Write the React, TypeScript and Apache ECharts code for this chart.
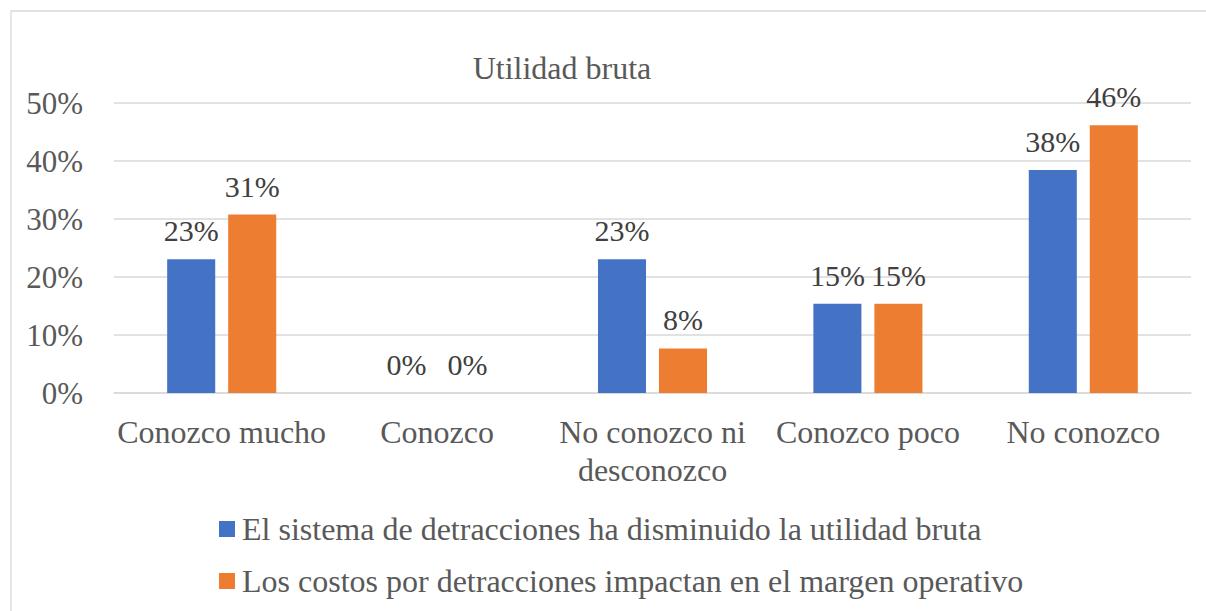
import React, { useEffect, useRef } from "react";
import * as echarts from "echarts";

const categories = ["Conozco mucho", "Conozco", "No conozco ni\ndesconozco", "Conozco poco", "No conozco"];
const seriesNames = [
  "El sistema de detracciones ha disminuido la utilidad bruta",
  "Los costos por detracciones impactan en el margen operativo",
];
const utilidadBruta = [0.2308, 0, 0.2308, 0.1538, 0.3846];
const margenOperativo = [0.3077, 0, 0.0769, 0.1538, 0.4615];
const titleText = "Utilidad bruta";

const FONT = "Liberation Serif, serif";

export default function App() {
  const ref = useRef<HTMLDivElement>(null);
  useEffect(() => {
    if (!ref.current) return;
    const chart = echarts.init(ref.current, null, { renderer: "svg" });
    const pct = (v: number) => Math.round(v * 100) + "%";
    const label = {
      show: true,
      position: "top",
      distance: 13,
      fontFamily: FONT,
      fontSize: 30,
      lineHeight: 31,
      color: "#404040",
      formatter: (p: any) => pct(p.value),
    };
    chart.setOption({
      animation: false,
      textStyle: { fontFamily: FONT },
      graphic: [
        {
          type: "polyline",
          shape: { points: [[11, 700], [11, 11], [1500, 11]] },
          style: { fill: "none", stroke: "#d9d9d9", lineWidth: 1.3 },
          silent: true,
        },
        {
          type: "text",
          x: 562,
          y: 68,
          style: {
            text: titleText,
            fontFamily: FONT,
            fontSize: 32,
            fill: "#595959",
            align: "center",
            verticalAlign: "middle",
          },
        },
      ],
      grid: { left: 114, right: 15, top: 103, bottom: 218, containLabel: false },
      legend: {
        orient: "vertical",
        left: 214,
        top: 508,
        itemWidth: 16,
        itemHeight: 16,
        itemGap: 20,
        icon: "rect",
        textStyle: { fontFamily: FONT, fontSize: 32, lineHeight: 31, color: "#595959", padding: [0, 0, 0, 2] },
        data: seriesNames,
      },
      xAxis: {
        type: "category",
        data: categories,
        axisLine: { show: true, lineStyle: { color: "#d9d9d9", width: 1.5 } },
        axisTick: { show: false },
        axisLabel: {
          interval: 0,
          margin: 20,
          fontFamily: FONT,
          fontSize: 32,
          lineHeight: 38,
          color: "#595959",
          align: "center",
        },
      },
      yAxis: {
        type: "value",
        min: 0,
        max: 0.5,
        interval: 0.1,
        axisLine: { show: false },
        axisTick: { show: false },
        splitLine: { lineStyle: { color: "#d9d9d9", width: 1.5 } },
        axisLabel: {
          margin: 31,
          fontFamily: FONT,
          fontSize: 31,
          color: "#595959",
          formatter: (v: number) => Math.round(v * 100) + "%",
        },
      },
      series: [
        {
          name: seriesNames[0],
          type: "bar",
          data: utilidadBruta,
          barWidth: "22.3%",
          barGap: "27%",
          itemStyle: { color: "#4472C4" },
          label,
        },
        {
          name: seriesNames[1],
          type: "bar",
          data: margenOperativo,
          barWidth: "22.3%",
          itemStyle: { color: "#ED7D31" },
          label,
        },
      ],
    });
    return () => chart.dispose();
  }, []);
  return (
    <div
      ref={ref}
      style={{ position: "fixed", left: 0, top: 0, width: 1206, height: 611, background: "#fff" }}
    />
  );
}
